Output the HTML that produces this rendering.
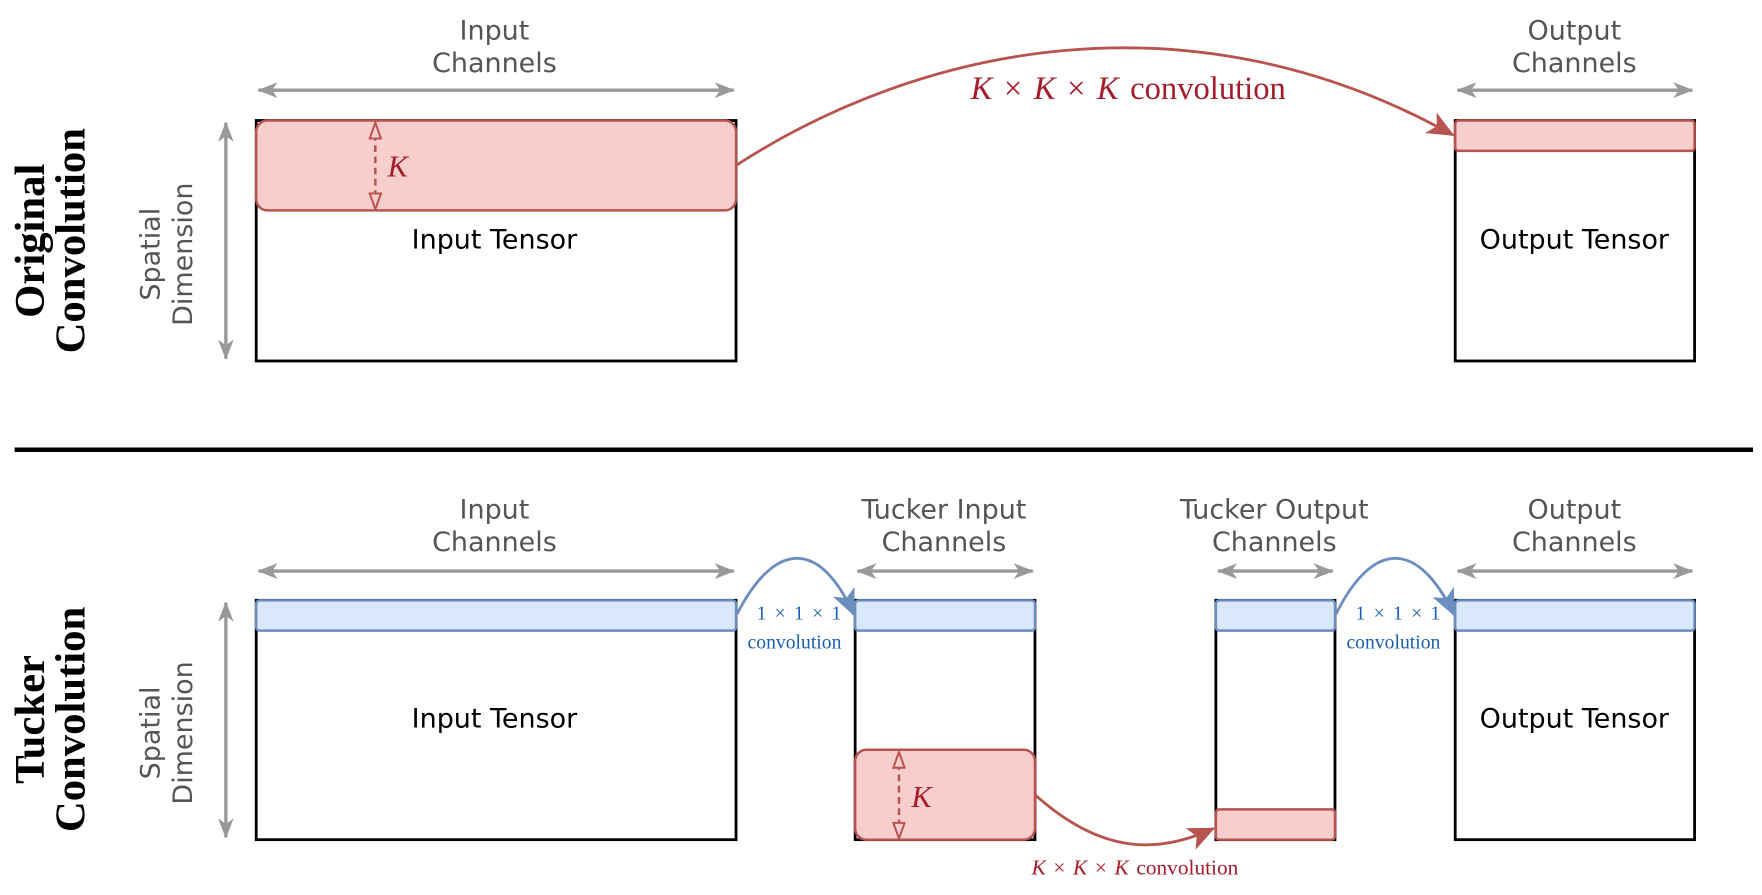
<!DOCTYPE html>
<html><head><meta charset="utf-8"><style>
html,body{margin:0;padding:0;background:#fff;}
svg{display:block;}
.g{font-family:"DejaVu Sans","Liberation Sans",sans-serif;fill:#555;font-size:24px;text-anchor:middle;}
.t{font-family:"DejaVu Sans","Liberation Sans",sans-serif;fill:#000;font-size:24px;text-anchor:middle;}
.s{font-family:"Liberation Serif",serif;}
.ttl{font-family:"Liberation Serif",serif;font-weight:bold;font-size:38px;fill:#000;text-anchor:middle;}
</style></head><body>
<svg width="1762" height="895" viewBox="0 0 1568 796" xmlns="http://www.w3.org/2000/svg">
<defs>
<marker id="ga" viewBox="0 0 18 14" refX="17" refY="7" markerWidth="18" markerHeight="14" markerUnits="userSpaceOnUse" orient="auto-start-reverse"><path d="M0,0 L18,7 L0,14 L5,7 z" fill="#999"/></marker>
<marker id="ra" viewBox="0 0 16 14" refX="15" refY="7" markerWidth="24" markerHeight="21" markerUnits="userSpaceOnUse" orient="auto"><path d="M0,0 L16,7 L0,14 L4,7 z" fill="#b85450"/></marker>
<marker id="ba" viewBox="0 0 16 14" refX="15" refY="7" markerWidth="24" markerHeight="21" markerUnits="userSpaceOnUse" orient="auto"><path d="M0,0 L16,7 L0,14 L4,7 z" fill="#6c8ebf"/></marker>
<marker id="ko" viewBox="0 0 16 12" refX="15" refY="6" markerWidth="16" markerHeight="12" markerUnits="userSpaceOnUse" orient="auto-start-reverse"><path d="M1,1 L15,6 L1,11 z" fill="#f8cecc" stroke="#b85450" stroke-width="1.8"/></marker>
</defs>
<g stroke="#999" stroke-width="3" fill="none">
<line x1="230" y1="80" x2="653" y2="80" marker-start="url(#ga)" marker-end="url(#ga)"/>
<line x1="1297" y1="80" x2="1506" y2="80" marker-start="url(#ga)" marker-end="url(#ga)"/>
<line x1="201" y1="109" x2="201" y2="319" marker-start="url(#ga)" marker-end="url(#ga)"/>
<line x1="230" y1="508" x2="653" y2="508" marker-start="url(#ga)" marker-end="url(#ga)"/>
<line x1="763" y1="508" x2="919" y2="508" marker-start="url(#ga)" marker-end="url(#ga)"/>
<line x1="1084" y1="508" x2="1186" y2="508" marker-start="url(#ga)" marker-end="url(#ga)"/>
<line x1="1297" y1="508" x2="1506" y2="508" marker-start="url(#ga)" marker-end="url(#ga)"/>
<line x1="201" y1="536" x2="201" y2="745" marker-start="url(#ga)" marker-end="url(#ga)"/>
</g>
<text class="g" x="440" y="35">Input</text><text class="g" x="440" y="64">Channels</text>
<text class="g" x="1401" y="35">Output</text><text class="g" x="1401" y="64">Channels</text>
<text class="g" x="440" y="461">Input</text><text class="g" x="440" y="490">Channels</text>
<text class="g" x="840" y="461">Tucker Input</text><text class="g" x="840" y="490">Channels</text>
<text class="g" x="1134" y="461">Tucker Output</text><text class="g" x="1134" y="490">Channels</text>
<text class="g" x="1401" y="461">Output</text><text class="g" x="1401" y="490">Channels</text>
<g transform="translate(163,226) rotate(-90)"><text class="g" x="0" y="-21">Spatial</text><text class="g" x="0" y="8">Dimension</text></g>
<g transform="translate(163,652) rotate(-90)"><text class="g" x="0" y="-21">Spatial</text><text class="g" x="0" y="8">Dimension</text></g>
<g transform="translate(42,214) rotate(-90)"><text class="ttl" x="0" y="-3">Original</text><text class="ttl" x="0" y="33">Convolution</text></g>
<g transform="translate(42,640) rotate(-90)"><text class="ttl" x="0" y="-3">Tucker</text><text class="ttl" x="0" y="33">Convolution</text></g>
<line x1="13" y1="400" x2="1560" y2="400" stroke="#000" stroke-width="4"/>
<g fill="#fff" stroke="#000" stroke-width="2.5">
<rect x="228" y="107" width="427" height="214"/>
<rect x="1295" y="107" width="213" height="214"/>
<rect x="228" y="534" width="427" height="213"/>
<rect x="761" y="534" width="160" height="213"/>
<rect x="1082" y="534" width="106" height="213"/>
<rect x="1295" y="534" width="213" height="213"/>
</g>
<g fill="#f8cecc" stroke="#b85450" stroke-width="2.2">
<rect x="228" y="107" width="427" height="80" rx="10"/>
<rect x="1295" y="107" width="213" height="27" rx="3"/>
<rect x="761" y="667" width="160" height="80" rx="10"/>
<rect x="1082" y="720" width="106" height="27" rx="3"/>
</g>
<g fill="#dae8fc" stroke="#6c8ebf" stroke-width="2.2">
<rect x="228" y="534" width="427" height="27" rx="3"/>
<rect x="761" y="534" width="160" height="27" rx="3"/>
<rect x="1082" y="534" width="106" height="27" rx="3"/>
<rect x="1295" y="534" width="213" height="27" rx="3"/>
</g>
<g stroke="#b85450" stroke-width="2.2" stroke-dasharray="6,4" fill="none">
<line x1="334" y1="109" x2="334" y2="186" marker-start="url(#ko)" marker-end="url(#ko)"/>
<line x1="800" y1="669" x2="800" y2="746" marker-start="url(#ko)" marker-end="url(#ko)"/>
</g>
<text class="s" x="345" y="157" font-size="27" font-style="italic" fill="#a51d2d">K</text>
<text class="s" x="811" y="718" font-size="27" font-style="italic" fill="#a51d2d">K</text>
<text class="t" x="440" y="221">Input Tensor</text>
<text class="t" x="1401" y="221">Output Tensor</text>
<text class="t" x="440" y="647">Input Tensor</text>
<text class="t" x="1401" y="647">Output Tensor</text>
<path d="M655,147 C820,40 1060,-10 1293,120" stroke="#b85450" stroke-width="2.5" fill="none" marker-end="url(#ra)"/>
<text class="s" x="1004" y="88" font-size="29" fill="#a51d2d" text-anchor="middle" word-spacing="3"><tspan font-style="italic">K</tspan> × <tspan font-style="italic">K</tspan> × <tspan font-style="italic">K</tspan> convolution</text>
<path d="M921,707 C980,760 1030,760 1080,737" stroke="#b85450" stroke-width="2.5" fill="none" marker-end="url(#ra)"/>
<text class="s" x="1010" y="778" font-size="19" fill="#a51d2d" text-anchor="middle" word-spacing="2"><tspan font-style="italic">K</tspan> × <tspan font-style="italic">K</tspan> × <tspan font-style="italic">K</tspan> convolution</text>
<path d="M656,546 C690,480 730,480 760,547" stroke="#6c8ebf" stroke-width="2.5" fill="none" marker-end="url(#ba)"/>
<path d="M1189,546 C1222,480 1262,480 1294,547" stroke="#6c8ebf" stroke-width="2.5" fill="none" marker-end="url(#ba)"/>
<g class="s" fill="#1a5fb4" font-size="17.5" text-anchor="middle">
<text x="711" y="551" word-spacing="3">1 × 1 × 1</text><text x="707" y="577">convolution</text>
<text x="1244" y="551" word-spacing="3">1 × 1 × 1</text><text x="1240" y="577">convolution</text>
</g>
</svg>
</body></html>
